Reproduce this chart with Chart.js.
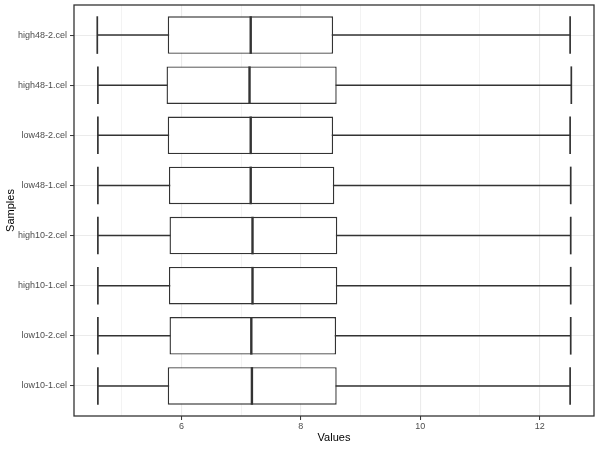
<!DOCTYPE html>
<html>
<head>
<meta charset="utf-8">
<script src="https://cdn.jsdelivr.net/npm/chart.js@4"></script>
<style>
  html, body { margin: 0; padding: 0; background: #ffffff; }
  #myChart { display: block; }
</style>
</head>
<body>
<canvas id="myChart" width="600" height="450"></canvas>
<script>
// samples listed bottom to top
const samples = ["low10-1.cel", "low10-2.cel", "high10-1.cel", "high10-2.cel",
                 "low48-1.cel", "low48-2.cel", "high48-1.cel", "high48-2.cel"];
const lowerWhisker = [4.60, 4.60, 4.60, 4.60, 4.60, 4.60, 4.60, 4.59];
const q1 = [5.77, 5.80, 5.79, 5.80, 5.79, 5.77, 5.75, 5.77];
const medians = [7.18, 7.17, 7.19, 7.19, 7.16, 7.16, 7.14, 7.16];
const q3 = [8.60, 8.59, 8.61, 8.61, 8.56, 8.54, 8.60, 8.54];
const upperWhisker = [12.51, 12.52, 12.52, 12.52, 12.52, 12.51, 12.53, 12.51];
const xTicks = [5, 6, 7, 8, 9, 10, 11, 12]; // odd ones are minor grid lines only

const lineColor = "#333333";

Chart.defaults.font.family = "'Liberation Sans', Arial, sans-serif";

// whiskers under the boxes, medians and caps on top, panel border last
const boxplotExtras = {
    id: "boxplotExtras",
    beforeDatasetsDraw(chart) {
        const ctx = chart.ctx;
        const xs = chart.scales.x, ys = chart.scales.y;
        ctx.save();
        ctx.strokeStyle = lineColor;
        ctx.lineWidth = 1.4;
        samples.forEach((s, i) => {
            const y = ys.getPixelForValue(i + 1);
            ctx.beginPath();
            ctx.moveTo(xs.getPixelForValue(lowerWhisker[i]), y);
            ctx.lineTo(xs.getPixelForValue(upperWhisker[i]), y);
            ctx.stroke();
        });
        ctx.restore();
    },
    afterDatasetsDraw(chart) {
        const ctx = chart.ctx;
        const xs = chart.scales.x, ys = chart.scales.y;
        const meta = chart.getDatasetMeta(0);
        ctx.save();
        ctx.strokeStyle = lineColor;
        samples.forEach((s, i) => {
            const y = ys.getPixelForValue(i + 1);
            const half = meta.data[i].height / 2;
            // median
            ctx.lineWidth = 2.4;
            const xm = xs.getPixelForValue(medians[i]);
            ctx.beginPath();
            ctx.moveTo(xm, y - half);
            ctx.lineTo(xm, y + half);
            ctx.stroke();
            // caps
            ctx.lineWidth = 1.7;
            [lowerWhisker[i], upperWhisker[i]].forEach(v => {
                const xc = xs.getPixelForValue(v);
                ctx.beginPath();
                ctx.moveTo(xc, y - half);
                ctx.lineTo(xc, y + half);
                ctx.stroke();
            });
        });
        ctx.restore();
    },
    afterDraw(chart) {
        const a = chart.chartArea;
        const ctx = chart.ctx;
        ctx.save();
        ctx.strokeStyle = lineColor;
        ctx.lineWidth = 1.3;
        ctx.strokeRect(a.left, a.top, a.right - a.left, a.bottom - a.top);
        ctx.restore();
    }
};

const canvas = document.getElementById("myChart");
new Chart(canvas.getContext("2d"), {
    type: "bar",
    data: {
        datasets: [{
            label: "Values",
            data: samples.map((s, i) => ({ y: i + 1, x: [q1[i], q3[i]] })),
            backgroundColor: "#FFFFFF",
            borderColor: lineColor,
            borderWidth: 1.4,
            borderSkipped: false,
            categoryPercentage: 1,
            barPercentage: 0.75
        }]
    },
    options: {
        indexAxis: "y",
        responsive: false,
        animation: false,
        layout: { padding: { top: 5, right: 6, left: 0, bottom: 0 } },
        plugins: {
            legend: { display: false },
            tooltip: { enabled: false }
        },
        scales: {
            x: {
                type: "linear",
                min: 4.2,
                max: 12.91,
                afterBuildTicks: scale => { scale.ticks = xTicks.map(v => ({ value: v })); },
                afterFit: scale => {
                    scale.height = 34;
                    scale.paddingLeft = 0;
                    scale.paddingRight = 0;
                },
                ticks: {
                    callback: v => (v % 2 === 0 ? String(v) : ""),
                    color: "#4D4D4D",
                    font: { size: 9 },
                    padding: 1,
                    maxRotation: 0,
                    autoSkip: false
                },
                grid: {
                    color: "#EBEBEB",
                    lineWidth: ctx => (ctx.tick && ctx.tick.value % 2 === 0 ? 1.1 : 0.6),
                    tickColor: ctx => (ctx.tick && ctx.tick.value % 2 === 0 ? lineColor : "rgba(0,0,0,0)"),
                    tickLength: 4,
                    tickWidth: 1
                },
                border: { display: false },
                title: {
                    display: true,
                    text: "Values",
                    color: "#000000",
                    font: { size: 11 },
                    padding: { top: 0, bottom: 5 }
                }
            },
            y: {
                type: "linear",
                offset: false,
                min: 0.4,
                max: 8.6,
                afterBuildTicks: scale => { scale.ticks = samples.map((s, i) => ({ value: i + 1 })); },
                afterFit: scale => {
                    scale.width = 74;
                    scale.paddingTop = 0;
                    scale.paddingBottom = 0;
                },
                ticks: {
                    callback: v => samples[Math.round(v) - 1],
                    color: "#4D4D4D",
                    font: { size: 9 },
                    padding: 3,
                    autoSkip: false
                },
                grid: {
                    offset: false,
                    color: "#EBEBEB",
                    lineWidth: 1.1,
                    tickColor: lineColor,
                    tickLength: 4,
                    tickWidth: 1
                },
                border: { display: false },
                title: {
                    display: true,
                    text: "Samples",
                    color: "#000000",
                    font: { size: 11 },
                    padding: { top: 4, bottom: 0 }
                }
            }
        }
    },
    plugins: [boxplotExtras]
});
</script>
</body>
</html>
